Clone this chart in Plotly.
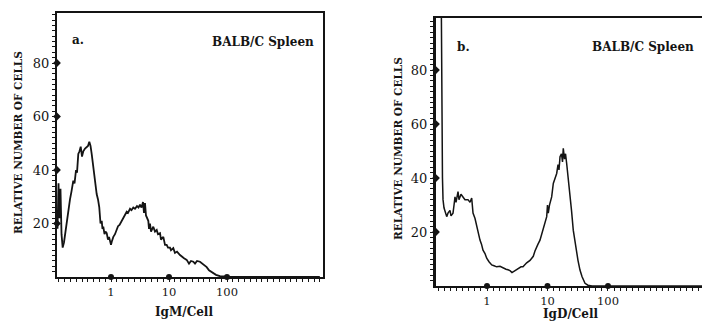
import numpy as np
import plotly.graph_objects as go

# ---- Panel a: IgM/Cell (log10 of IgM per cell) vs relative number of cells
a_log_igm = [-0.922, -0.905, -0.888, -0.871, -0.853, -0.833, -0.810, -0.784, -0.764, -0.741,
             -0.707, -0.681, -0.650, -0.629, -0.603, -0.586, -0.564, -0.543, -0.522, -0.500,
             -0.478, -0.448, -0.419, -0.397, -0.374, -0.353, -0.333, -0.310, -0.293, -0.267,
             -0.247, -0.224, -0.202, -0.181, -0.160, -0.147, -0.133, -0.112, -0.095, -0.074,
             -0.052, -0.034, -0.017, 0.000, 0.017, 0.040, 0.069, 0.098, 0.121, 0.147,
             0.184, 0.207, 0.241, 0.271, 0.293, 0.328, 0.353, 0.384, 0.414, 0.448,
             0.474, 0.500, 0.526, 0.552, 0.569, 0.586, 0.603, 0.616, 0.643, 0.655,
             0.672, 0.690, 0.729, 0.759, 0.788, 0.810, 0.845, 0.862, 0.902, 0.931,
             0.960, 0.983, 1.017, 1.034, 1.074, 1.103, 1.138, 1.190, 1.224, 1.259,
             1.305, 1.345, 1.379, 1.419, 1.448, 1.483, 1.534, 1.569, 1.603, 1.650,
             1.690, 1.724, 1.764, 1.810, 1.879, 1.966, 2.052, 3.600]
a_cells = [18, 35, 22, 33, 16, 11, 13, 17, 21, 25,
           29, 32, 36, 35, 40, 39, 46, 47, 48.7, 45,
           47, 48, 48.7, 49, 50.6, 49, 46, 42, 39, 34,
           31, 29, 26, 20, 21, 18, 18.8, 16, 17, 16.4,
           14, 15, 13, 12, 13.5, 15, 16, 17.6, 19, 19.5,
           21, 22, 23, 24.4, 24, 25.5, 25, 26, 25.5, 26.5,
           26, 27, 26, 28, 24, 27.6, 23, 22.5, 21, 18,
           20, 17, 18.8, 17, 17.6, 16, 16.4, 14, 15, 12,
           12, 11, 11, 10, 10.8, 9, 9.5, 8.2, 7.5, 7,
           6.4, 5, 6, 5.7, 5, 6, 5.7, 5, 4.5, 3.7,
           2.5, 2, 1.2, 0.8, 0.3, 0.1, 0, 0]

# ---- Panel b: IgD/Cell
b_log_igd = [-0.810, -0.760, -0.736, -0.727, -0.711, -0.666, -0.645, -0.612, -0.595, -0.562,
             -0.545, -0.529, -0.512, -0.479, -0.463, -0.430, -0.397, -0.364, -0.314, -0.281,
             -0.253, -0.231, -0.198, -0.170, -0.149, -0.116, -0.091, -0.066, -0.033, -0.005,
             0.033, 0.078, 0.116, 0.160, 0.215, 0.264, 0.314, 0.347, 0.380, 0.413,
             0.446, 0.491, 0.529, 0.562, 0.595, 0.656, 0.711, 0.765, 0.793, 0.821,
             0.843, 0.876, 0.901, 0.931, 0.959, 0.987, 1.000, 1.013, 1.033, 1.069,
             1.096, 1.124, 1.152, 1.174, 1.190, 1.207, 1.231, 1.248, 1.261, 1.281,
             1.298, 1.317, 1.339, 1.372, 1.397, 1.426, 1.455, 1.483, 1.504, 1.537,
             1.570, 1.620, 1.669, 1.736, 3.600]
b_cells = [120, 120, 40, 32, 29, 25.7, 27, 28, 26, 27,
           30, 33, 31, 35, 32, 34, 33, 32, 32, 31,
           32.6, 27, 25, 22, 20, 17, 15.5, 13.3, 12, 10.3,
           9, 7.8, 7.5, 7.1, 7.3, 6.6, 6.2, 6, 5.7, 5.0,
           5.5, 5.9, 6.6, 7.1, 7.1, 8.6, 9.5, 11, 13, 14.7,
           15.5, 17, 19, 20.7, 23, 25.7, 30, 27, 30, 33,
           38, 40, 41.7, 45, 43, 47.9, 49, 46, 51, 47,
           49, 45.4, 41, 34.3, 28, 20.7, 16, 12, 9.5, 5.9,
           3.5, 1, 0.3, 0, 0]

x_tick_vals = [1, 10, 100]
x_tick_text = ["1", "10", "100"]
y_tick_vals = [20, 40, 60, 80]
y_tick_text = ["20", "40", "60", "80"]

W, H = 702, 323
FONT = "DejaVu Serif, Liberation Serif, serif"
INK = "#141414"

a_xrange = [-0.931, 3.655]
a_yrange = [0, 98.7]
b_xrange = [-0.843, 3.554]
b_yrange = [0, 99.3]

minor_x = [10 ** (k / 10) for k in range(-9, 37)]
minor_y = list(range(2, 99, 2))

fig = go.Figure()
fig.add_trace(go.Scatter(x=np.power(10.0, a_log_igm), y=a_cells, mode="lines",
                         line=dict(color=INK, width=1.8), xaxis="x", yaxis="y"))
fig.add_trace(go.Scatter(x=np.power(10.0, b_log_igd), y=b_cells, mode="lines",
                         line=dict(color=INK, width=1.5), xaxis="x2", yaxis="y2"))

# major tick blobs
for xa, ya, xr in (("x", "y", a_xrange), ("x2", "y2", b_xrange)):
    fig.add_trace(go.Scatter(x=x_tick_vals, y=[0] * 3, mode="markers", cliponaxis=False,
                             marker=dict(symbol="circle", size=6, color=INK),
                             xaxis=xa, yaxis=ya))
    fig.add_trace(go.Scatter(x=[10 ** xr[0]] * 4, y=y_tick_vals, mode="markers", cliponaxis=False,
                             marker=dict(symbol="diamond", size=6, color=INK),
                             xaxis=xa, yaxis=ya))

def xaxis(domain, rng, anchor, lw):
    return dict(domain=domain, type="log", range=rng, anchor=anchor,
                showline=True, linecolor=INK, linewidth=lw, mirror=True,
                showgrid=False, zeroline=False,
                tickmode="array", tickvals=x_tick_vals, ticktext=x_tick_text,
                ticks="outside", ticklen=3, tickwidth=1.2, tickcolor=INK,
                minor=dict(tickmode="array", tickvals=minor_x, ticks="outside",
                           ticklen=3, tickwidth=1, tickcolor=INK),
                tickfont=dict(family=FONT, size=11.5, color=INK))

def yaxis(domain, rng, anchor, lw, mirror):
    return dict(domain=domain, range=rng, anchor=anchor,
                showline=True, linecolor=INK, linewidth=lw, mirror=mirror,
                showgrid=False, zeroline=False,
                tickmode="array", tickvals=y_tick_vals, ticktext=y_tick_text,
                ticks="outside", ticklen=3, tickwidth=1.2, tickcolor=INK,
                minor=dict(tickmode="array", tickvals=minor_y, ticks="outside",
                           ticklen=3, tickwidth=1, tickcolor=INK),
                tickfont=dict(family=FONT, size=13, color=INK))

fig.update_layout(
    width=W, height=H, margin=dict(l=0, r=0, t=0, b=0),
    paper_bgcolor="white", plot_bgcolor="white", showlegend=False,
    xaxis=xaxis([57 / W, 323 / W], a_xrange, "y", 1.5),
    yaxis=yaxis([1 - 277 / H, 1 - 13 / H], a_yrange, "x", 2, True),
    xaxis2=xaxis([436 / W, 1.0], b_xrange, "y2", 1.5),
    yaxis2=yaxis([1 - 286 / H, 1 - 18 / H], b_yrange, "x2", 3, False),
)

def ann(text, x, y, size=12.5, angle=0):
    fig.add_annotation(text=text, x=x / W, y=1 - y / H, xref="paper", yref="paper",
                       xanchor="center", yanchor="middle",
                       showarrow=False, textangle=angle,
                       font=dict(family=FONT, size=size, color=INK))

ann("<b>a.</b>", 78, 40, 12)
ann("<b>BALB/C Spleen</b>", 263, 42, 12)
ann("<b>b.</b>", 463, 47, 12)
ann("<b>BALB/C Spleen</b>", 643, 47, 12)
ann("<b>RELATIVE NUMBER OF CELLS</b>", 18, 143, 10.5, -90)
ann("<b>RELATIVE NUMBER OF CELLS</b>", 398, 148, 10.5, -90)
ann("<b>IgM/Cell</b>", 184, 312, 12)
ann("<b>IgD/Cell</b>", 571, 314, 12)

fig.write_html("out.html")
